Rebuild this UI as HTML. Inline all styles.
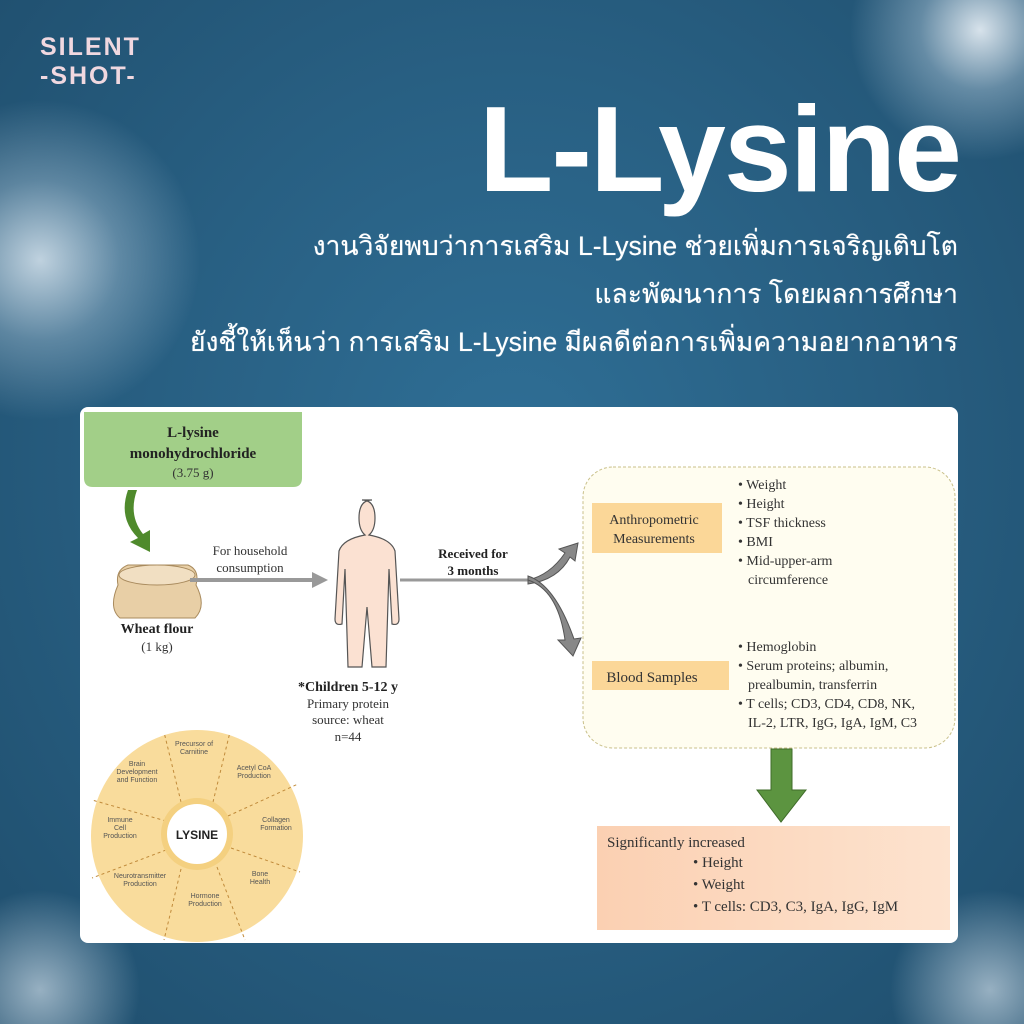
<!DOCTYPE html>
<html><head><meta charset="utf-8"><style>
body{margin:0;width:1024px;height:1024px;overflow:hidden;font-family:"Liberation Sans","Noto Sans CJK SC",sans-serif;}
#bg{position:absolute;inset:0;background:
radial-gradient(circle at 40px 260px,rgba(230,240,248,.8) 0,rgba(200,220,235,.35) 80px,transparent 160px),
radial-gradient(circle at 980px 30px,rgba(235,242,248,.9) 0,rgba(200,220,235,.4) 60px,transparent 130px),
radial-gradient(circle at 40px 990px,rgba(230,240,248,.6) 0,transparent 100px),
radial-gradient(circle at 990px 990px,rgba(230,240,248,.6) 0,transparent 100px),
radial-gradient(ellipse at 50% 45%,#2f6f96 0,#285f82 50%,#1f4e6d 100%);}
.t{position:absolute;color:#fff;}
</style></head><body><div id="bg"></div>
<div class="t" style="left:40px;top:33px;font-size:25px;font-weight:bold;letter-spacing:2px;line-height:29px;color:#f0d8e0">SILENT<br>-SHOT-</div>
<div class="t" style="right:64px;top:84px;font-size:122px;font-weight:bold;letter-spacing:-2px;line-height:130px">L-Lysine</div>
<div class="t" style="right:66px;top:222px;font-size:26.5px;line-height:48px;text-align:right;text-shadow:0 0 0.6px #fff;white-space:nowrap">งานวิจัยพบว่าการเสริม L-Lysine ช่วยเพิ่มการเจริญเติบโต<br>และพัฒนาการ โดยผลการศึกษา<br>ยังชี้ให้เห็นว่า การเสริม L-Lysine มีผลดีต่อการเพิ่มความอยากอาหาร</div>
<div style="position:absolute;left:80px;top:407px;width:878px;height:536px;background:#fff;border-radius:8px"></div>
<svg width="1024" height="1024" style="position:absolute;left:0;top:0" font-family="Liberation Serif,serif">
<defs><marker id="ga" markerWidth="4" markerHeight="4" refX="2" refY="2" orient="auto"><path d="M0,0L4,2L0,4z" fill="#999"/></marker></defs>
<path d="M84,412H302V478Q302,487,293,487H93Q84,487,84,478Z" fill="#a2cf88"/>
<text x="193" y="437" text-anchor="middle" font-size="15" font-weight="bold" fill="#222">L-lysine</text>
<text x="193" y="458" text-anchor="middle" font-size="15" font-weight="bold" fill="#222">monohydrochloride</text>
<text x="193" y="477" text-anchor="middle" font-size="13" fill="#333">(3.75 g)</text>
<path d="M128,490Q118,518,138,538L130,542L150,552L150,530L143,534Q128,515,137,490Z" fill="#4f8a2c"/>
<path d="M118,585Q108,608,120,618H195Q207,606,196,585Q200,570,188,565H128Q115,570,118,585Z" fill="#e8cfa6" stroke="#a98b5e"/>
<ellipse cx="157" cy="575" rx="38" ry="10" fill="#f1dfc2" stroke="#a98b5e"/>
<text x="157" y="633" text-anchor="middle" font-size="14" font-weight="bold" fill="#222">Wheat flour</text>
<text x="157" y="651" text-anchor="middle" font-size="13" fill="#333">(1 kg)</text>
<text x="250" y="555" text-anchor="middle" font-size="13" fill="#333">For household</text>
<text x="250" y="572" text-anchor="middle" font-size="13" fill="#333">consumption</text>
<path d="M190,580H320" stroke="#999" stroke-width="4" marker-end="url(#ga)"/>
<path d="M362,500q13,0,13,18q0,12,-6,17q22,4,26,16l4,68q0,7,-7,5l-3,-55l-3,98h-14l-5,-60l-5,60h-14l-3,-98l-3,55q-7,2,-7,-5l4,-68q4,-12,26,-16q-6,-5,-6,-17q0,-18,13,-18z" fill="#fbe1d2" stroke="#555" stroke-width="1.2"/>
<text x="348" y="691" text-anchor="middle" font-size="14" font-weight="bold" fill="#222">*Children 5-12 y</text>
<text x="348" y="708" text-anchor="middle" font-size="13" fill="#333">Primary protein</text>
<text x="348" y="724" text-anchor="middle" font-size="13" fill="#333">source: wheat</text>
<text x="348" y="741" text-anchor="middle" font-size="13" fill="#333">n=44</text>
<text x="473" y="558" text-anchor="middle" font-size="13" font-weight="bold" fill="#222">Received for</text>
<text x="473" y="575" text-anchor="middle" font-size="13" font-weight="bold" fill="#222">3 months</text>
<path d="M400,580H528" stroke="#999" stroke-width="3"/>
<path d="M528,580Q550,575,565,553l-6,-4l19,-6l-3,18l-5,-4Q558,580,528,584Z" fill="#888" stroke="#555"/>
<path d="M528,580Q558,590,565,640l-7,0l15,16l8,-18l-7,1Q555,585,528,576Z" fill="#888" stroke="#555"/>
<rect x="583" y="467" width="372" height="281" rx="30" fill="#fffdf0" stroke="#c9c08a" stroke-dasharray="3,2"/>
<rect x="592" y="503" width="130" height="50" fill="#fbd798"/>
<text x="654" y="524" text-anchor="middle" font-size="14" fill="#333">Anthropometric</text>
<text x="654" y="543" text-anchor="middle" font-size="14" fill="#333">Measurements</text>
<rect x="592" y="661" width="137" height="29" fill="#fbd798"/>
<text x="652" y="682" text-anchor="middle" font-size="15" fill="#333">Blood Samples</text>
<g font-size="14" fill="#333">
<text x="738" y="489">• Weight</text><text x="738" y="508">• Height</text><text x="738" y="527">• TSF thickness</text><text x="738" y="546">• BMI</text><text x="738" y="565">• Mid-upper-arm</text><text x="748" y="584">circumference</text>
<text x="738" y="651">• Hemoglobin</text><text x="738" y="670">• Serum proteins; albumin,</text><text x="748" y="689">prealbumin, transferrin</text><text x="738" y="708">• T cells; CD3, CD4, CD8, NK,</text><text x="748" y="727">IL-2, LTR, IgG, IgA, IgM, C3</text>
</g>
<path d="M771,749H792V790H806L781,822L757,790H771Z" fill="#5c9440" stroke="#3f6b2a"/>
<defs><linearGradient id="pg" x1="0" x2="1"><stop offset="0" stop-color="#fbd0b2"/><stop offset="1" stop-color="#fde3cf"/></linearGradient></defs>
<rect x="597" y="826" width="353" height="104" fill="url(#pg)"/>
<g font-size="15" fill="#333"><text x="607" y="847">Significantly increased</text><text x="693" y="867">• Height</text><text x="693" y="889">• Weight</text><text x="693" y="911">• T cells: CD3, C3, IgA, IgG, IgM</text></g>
<circle cx="197" cy="836" r="106" fill="#f9dc9c"/>
<g stroke="#c08a3a" stroke-dasharray="3,3" stroke-width="1">
<path d="M181,802L164,732M213,802L230,732M228,816L298,784M231,848L300,872M217,867L245,940M181,869L164,940M166,850L92,878M166,821L92,800"/>
</g>
<circle cx="197" cy="834" r="36" fill="#f4d080"/>
<circle cx="197" cy="834" r="30" fill="#fff"/>
<text x="197" y="839" text-anchor="middle" font-family="Liberation Sans,sans-serif" font-size="12" font-weight="bold" fill="#222">LYSINE</text>
<g font-family="Liberation Sans,sans-serif" font-size="7" fill="#555" text-anchor="middle">
<text x="194" y="746">Precursor of</text><text x="194" y="754">Carnitine</text>
<text x="254" y="770">Acetyl CoA</text><text x="254" y="778">Production</text>
<text x="276" y="822">Collagen</text><text x="276" y="830">Formation</text>
<text x="260" y="876">Bone</text><text x="260" y="884">Health</text>
<text x="205" y="898">Hormone</text><text x="205" y="906">Production</text>
<text x="140" y="878">Neurotransmitter</text><text x="140" y="886">Production</text>
<text x="120" y="822">Immune</text><text x="120" y="830">Cell</text><text x="120" y="838">Production</text>
<text x="137" y="766">Brain</text><text x="137" y="774">Development</text><text x="137" y="782">and Function</text>
</g>
</svg>
</body></html>
